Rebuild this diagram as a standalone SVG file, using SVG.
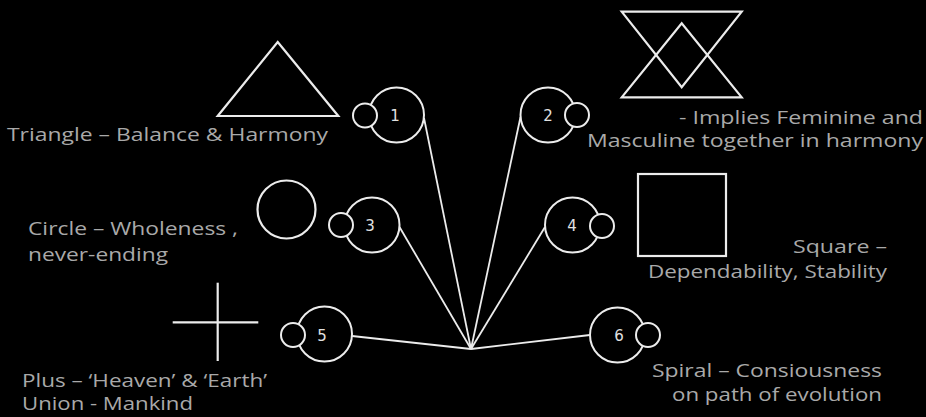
<svg xmlns="http://www.w3.org/2000/svg" width="926" height="417" viewBox="0 0 926 417">
<style>
.bg{fill:#000}
.shape{fill:none;stroke:#ececec;stroke-width:2.2;stroke-linejoin:miter}
.ring{fill:#000;stroke:#ececec;stroke-width:2}
.conn{stroke:#ececec;stroke-width:1.8;fill:none}
.lbl{font-family:"Open Sans","Liberation Sans",sans-serif;font-size:18px;fill:#a9a9a9}
.num{font-family:"DejaVu Sans",sans-serif;font-size:15px;fill:#e0e0e0;text-anchor:middle}
.r{text-anchor:end}
</style>
<rect class="bg" x="0" y="0" width="926" height="417"/>
<g id="connectors">
<line class="conn" x1="424" y1="118" x2="471" y2="349"/>
<line class="conn" x1="520.5" y1="117" x2="471" y2="349"/>
<line class="conn" x1="399.5" y1="227" x2="471" y2="349"/>
<line class="conn" x1="545" y1="227" x2="471" y2="349"/>
<line class="conn" x1="352" y1="336" x2="471" y2="349"/>
<line class="conn" x1="590" y1="335" x2="471" y2="349"/>
</g>
<g id="node1">
<circle class="ring" cx="396.5" cy="115" r="27.5"/>
<circle class="ring" cx="365" cy="115.5" r="12"/>
<text class="num" x="395" y="120.5">1</text>
</g>
<g id="node2">
<circle class="ring" cx="548" cy="115" r="27.5"/>
<circle class="ring" cx="577" cy="115" r="12"/>
<text class="num" x="548" y="120.5">2</text>
</g>
<g id="node3">
<circle class="ring" cx="372" cy="225" r="27.5"/>
<circle class="ring" cx="341" cy="225" r="12"/>
<text class="num" x="370" y="230.5">3</text>
</g>
<g id="node4">
<circle class="ring" cx="572.5" cy="225" r="27.5"/>
<circle class="ring" cx="602" cy="226" r="12"/>
<text class="num" x="572" y="230.5">4</text>
</g>
<g id="node5">
<circle class="ring" cx="324.5" cy="334" r="27.5"/>
<circle class="ring" cx="293" cy="335" r="12"/>
<text class="num" x="322" y="340.5">5</text>
</g>
<g id="node6">
<circle class="ring" cx="617.5" cy="335" r="27.5"/>
<circle class="ring" cx="648" cy="335" r="12"/>
<text class="num" x="619" y="341">6</text>
</g>
<g id="triangle">
<polygon class="shape" points="277.7,42 338.3,116 217.7,116"/>
<text class="lbl" x="7" y="141" textLength="321" lengthAdjust="spacingAndGlyphs">Triangle – Balance &amp; Harmony</text>
</g>
<g id="hourglass">
<polygon class="shape" points="621.7,11.7 741.7,11.7 681.7,87.3"/>
<polygon class="shape" points="621.7,97.3 741.7,97.3 681.7,23.3"/>
<text class="lbl r" x="923" y="124" textLength="244" lengthAdjust="spacingAndGlyphs">- Implies Feminine and</text>
<text class="lbl r" x="923" y="147" textLength="336" lengthAdjust="spacingAndGlyphs">Masculine together in harmony</text>
</g>
<g id="circle">
<circle class="shape" cx="286.5" cy="209.5" r="29"/>
<text class="lbl" x="28" y="235" textLength="210" lengthAdjust="spacingAndGlyphs">Circle – Wholeness ,</text>
<text class="lbl" x="28" y="261" textLength="140" lengthAdjust="spacingAndGlyphs">never-ending</text>
</g>
<g id="square">
<rect class="shape" x="638" y="174" width="88" height="82"/>
<text class="lbl r" x="887" y="253" textLength="94" lengthAdjust="spacingAndGlyphs">Square –</text>
<text class="lbl r" x="887" y="278" textLength="239" lengthAdjust="spacingAndGlyphs">Dependability, Stability</text>
</g>
<g id="plus">
<line class="shape" x1="172.7" y1="322.3" x2="258.3" y2="322.3"/>
<line class="shape" x1="217.7" y1="282.7" x2="217.7" y2="361"/>
<text class="lbl" x="22" y="387" textLength="245" lengthAdjust="spacingAndGlyphs">Plus – ‘Heaven’ &amp; ‘Earth’</text>
<text class="lbl" x="22" y="410" textLength="171" lengthAdjust="spacingAndGlyphs">Union - Mankind</text>
</g>
<g id="spiral">
<text class="lbl r" x="882" y="377" textLength="230" lengthAdjust="spacingAndGlyphs">Spiral – Consiousness</text>
<text class="lbl r" x="882" y="401" textLength="210" lengthAdjust="spacingAndGlyphs">on path of evolution</text>
</g>
</svg>
